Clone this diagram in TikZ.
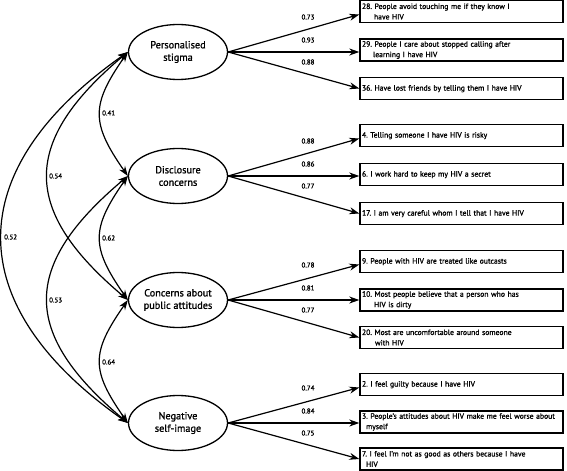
\documentclass[tikz,border=0pt]{standalone}
\usepackage{fontspec}
\setmainfont{PT Sans}[FakeBold=1.2]
\usetikzlibrary{arrows.meta,shapes.geometric}
\begin{document}
\frenchspacing
\begin{tikzpicture}[x=1bp,y=-1bp,
  latent/.style={draw, ellipse, line width=1.3bp, minimum width=99bp, minimum height=55bp, inner sep=0pt, align=center, font=\fontsize{10.3}{12.5}\selectfont},
  item/.style={draw, rectangle, line width=1.4bp, minimum width=203bp, minimum height=22bp, text width=199bp, align=left, inner sep=1.5bp, font=\fontsize{7.7}{10.5}\selectfont},
  load/.style={line width=1.2bp, -{Stealth[length=10bp,width=7bp]}},
  cov/.style={line width=1.2bp, {Stealth[length=10bp,width=7bp]}-{Stealth[length=10bp,width=7bp]}},
  lbl/.style={font=\fontsize{7}{8}\selectfont, inner sep=0pt},
  clbl/.style={font=\fontsize{7}{8}\selectfont, inner sep=0pt, anchor=west},
]
\useasboundingbox (0,0) rectangle (567,471);

% latent factors
\node[latent] (ps) at (178,52) {Personalised\\stigma};
\node[latent] (dc) at (178,176) {Disclosure\\concerns};
\node[latent] (pa) at (178,300) {Concerns about\\public attitudes};
\node[latent] (ni) at (178,423) {Negative\\self-image};

% items
\node[item] (b1) at (461.5,11.5) {28. People avoid touching me if they know I\\\hspace*{12bp}have HIV};
\node[item] (b2) at (461.5,50) {29. People I care about stopped calling after\\\hspace*{11bp}learning I have HIV};
\node[item] (b3) at (461.5,88.5) {36. Have lost friends by telling them I have HIV\strut};
\node[item] (b4) at (461.5,135.5) {4. Telling someone I have HIV is risky\strut};
\node[item] (b5) at (461.5,174.5) {6. I work hard to keep my HIV a secret\strut};
\node[item] (b6) at (461.5,213.5) {17. I am very careful whom I tell that I have HIV\strut};
\node[item] (b7) at (461.5,261.5) {9. People with HIV are treated like outcasts\strut};
\node[item] (b8) at (461.5,300) {10. Most people believe that a person who has\\\hspace*{12bp}HIV is dirty};
\node[item] (b9) at (461.5,337.5) {20. Most are uncomfortable around someone\\\hspace*{13bp}with HIV};
\node[item] (b10) at (461.5,384.5) {2. I feel guilty because I have HIV\strut};
\node[item] (b11) at (461.5,422) {3. People’s attitudes about HIV make me feel worse about\\\hspace*{4bp}myself};
\node[item] (b12) at (461.5,459) {7. I feel I’m not as good as others because I have\\\hspace*{4bp}HIV};

% loadings
\draw[load] (ps.east) -- ([yshift=-3bp]b1.west);
\draw[load] (ps.east) -- (ps.east -| b2.west);
\draw[load] (ps.east) -- (b3.west);
\draw[load] (dc.east) -- ([yshift=-3bp]b4.west);
\draw[load] (dc.east) -- (dc.east -| b5.west);
\draw[load] (dc.east) -- (b6.west);
\draw[load] (pa.east) -- ([yshift=-3bp]b7.west);
\draw[load] (pa.east) -- (pa.east -| b8.west);
\draw[load] (pa.east) -- (b9.west);
\draw[load] (ni.east) -- ([yshift=-3bp]b10.west);
\draw[load] (ni.east) -- (ni.east -| b11.west);
\draw[load] (ni.east) -- (b12.west);

\foreach \y/\a/\b/\c in {52/0.73/0.93/0.88, 176/0.88/0.86/0.77, 300/0.78/0.81/0.77, 423/0.74/0.84/0.75}{
  \node[lbl] at (308,\y-35) {\a};
  \node[lbl] at (308,\y-12) {\b};
  \node[lbl] at (308,\y+10) {\c};
}

% covariances
\draw[cov] (ps.west) .. controls +(-37,53) and +(-37,-53) .. (dc.west);
\draw[cov] (dc.west) .. controls +(-37,53) and +(-37,-53) .. (pa.west);
\draw[cov] (pa.west) .. controls +(-37,53) and +(-37,-53) .. (ni.west);
\draw[cov] (ps.west) .. controls +(-107,90) and +(-107,-90) .. (pa.west);
\draw[cov] (dc.west) .. controls +(-107,90) and +(-107,-90) .. (ni.west);
\draw[cov] (ps.west) .. controls +(-168,118) and +(-168,-118) .. (ni.west);

\node[clbl] (c1) at (102,113) {0.41};
\node[clbl] (c2) at (102,238) {0.62};
\node[clbl] (c3) at (102,362) {0.64};
\node[clbl] (c4) at (49,176) {0.54};
\node[clbl] (c5) at (49,300) {0.53};
\node[clbl] (c6) at (4,237) {0.52};
\end{tikzpicture}
\end{document}
